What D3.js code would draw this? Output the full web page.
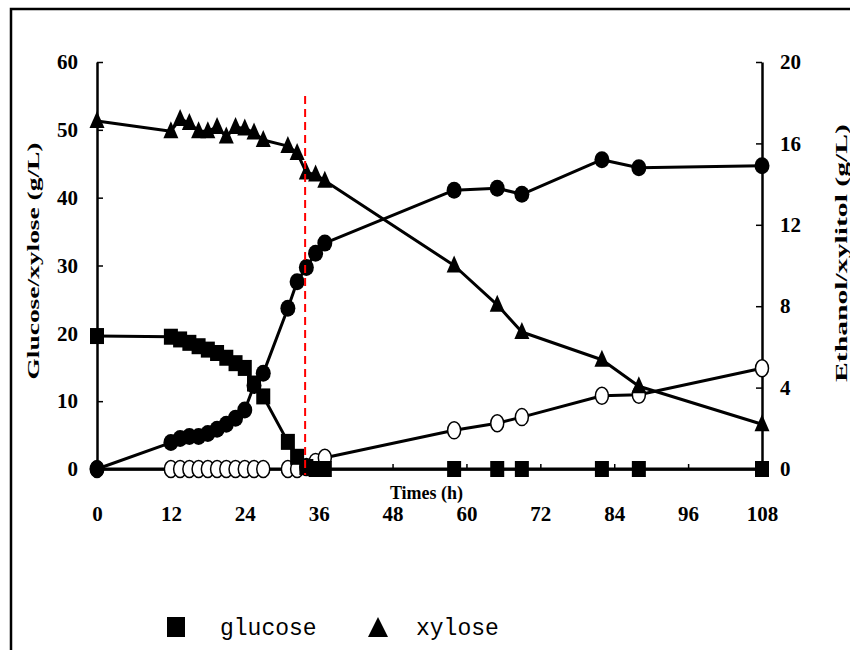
<!DOCTYPE html>
<html>
<head>
<meta charset="utf-8">
<script src="https://cdn.jsdelivr.net/npm/d3@7"></script>
<style>
  body { margin: 0; background: #fff; }
  svg { display: block; }
  .tick text { font-family: "Liberation Serif", "Times New Roman", serif; font-weight: bold; font-size: 21px; fill: #000; }
</style>
</head>
<body>
<div id="chart"></div>
<script>
// sampling times (h)
const times = [0, 12, 13.5, 15, 16.5, 18, 19.5, 21, 22.5, 24, 25.5, 27, 31, 32.5, 34, 35.5, 37, 58, 65, 69, 82, 88, 108];
// left axis (g/L)
const glucose = [19.6, 19.5, 19.1, 18.6, 18.1, 17.6, 17.1, 16.4, 15.6, 14.9, 12.6, 10.7, 4.0, 1.8, 0.3, 0, 0, 0, 0, 0, 0, 0, 0];
const xylose = [51.3, 49.8, 51.6, 51.0, 49.8, 49.8, 50.4, 49.0, 50.4, 50.2, 49.6, 48.5, 47.6, 46.6, 43.7, 43.4, 42.5, 30.0, 24.2, 20.2, 16.1, 12.2, 6.6];
// right axis (g/L)
const ethanol = [0, 1.3, 1.5, 1.6, 1.6, 1.75, 1.95, 2.2, 2.5, 2.9, 4.1, 4.7, 7.9, 9.2, 9.9, 10.6, 11.1, 13.7, 13.8, 13.5, 15.2, 14.8, 14.9];
const xylitol = [0, 0, 0, 0, 0, 0, 0, 0, 0, 0, 0, 0, 0, 0, 0.1, 0.35, 0.55, 1.9, 2.25, 2.55, 3.6, 3.65, 4.95];

const xTicks = [0, 12, 24, 36, 48, 60, 72, 84, 96, 108];
const yLeftTicks = [0, 10, 20, 30, 40, 50, 60];
const yRightTicks = [0, 4, 8, 12, 16, 20];
const cutoffTime = 33.8;
const legendItems = ["glucose", "xylose"];

const width = 850, height = 650;
const margin = { top: 62, right: 88, bottom: 181, left: 97 };

const svg = d3.select("#chart").append("svg")
  .attr("width", width)
  .attr("height", height);

// outer frame (cut off at right and bottom)
svg.append("rect")
  .attr("x", 11).attr("y", 9)
  .attr("width", 900).attr("height", 700)
  .attr("fill", "none")
  .attr("stroke", "#000")
  .attr("stroke-width", 2.5);

const x = d3.scaleLinear().domain([0, 108]).range([margin.left, width - margin.right]);
const yL = d3.scaleLinear().domain([0, 60]).range([height - margin.bottom, margin.top]);
const yR = d3.scaleLinear().domain([0, 20]).range([height - margin.bottom, margin.top]);

function styleAxis(g) {
  g.select(".domain").attr("stroke", "#000").attr("stroke-width", 2.5);
  g.selectAll(".tick line").attr("stroke", "#000").attr("stroke-width", 1.5);
}

svg.append("g")
  .attr("transform", `translate(0,${yL(0)})`)
  .call(d3.axisBottom(x).tickValues(xTicks).tickSizeInner(-5).tickSizeOuter(0).tickPadding(37))
  .call(styleAxis);

svg.append("g")
  .attr("transform", `translate(${x(0)},0)`)
  .call(d3.axisLeft(yL).tickValues(yLeftTicks).tickSizeInner(-6).tickSizeOuter(0).tickPadding(19))
  .call(styleAxis);

svg.append("g")
  .attr("transform", `translate(${x(108)},0)`)
  .call(d3.axisRight(yR).tickValues(yRightTicks).tickSizeInner(-6).tickSizeOuter(0).tickPadding(18))
  .call(styleAxis);

// axis titles
svg.append("text")
  .attr("x", (x(0) + x(108)) / 2 - 3)
  .attr("y", 499)
  .attr("text-anchor", "middle")
  .style("font-family", "'Liberation Serif', serif")
  .style("font-weight", "bold")
  .style("font-size", "18px")
  .text("Times (h)");

svg.append("text")
  .attr("transform", "translate(39,261) rotate(-90)")
  .attr("text-anchor", "middle")
  .attr("textLength", 237)
  .attr("lengthAdjust", "spacingAndGlyphs")
  .style("font-family", "'Liberation Serif', serif")
  .style("font-weight", "bold")
  .style("font-size", "17px")
  .text("Glucose/xylose (g/L)");

svg.append("text")
  .attr("transform", "translate(847,253) rotate(-90)")
  .attr("text-anchor", "middle")
  .attr("textLength", 258)
  .attr("lengthAdjust", "spacingAndGlyphs")
  .style("font-family", "'Liberation Serif', serif")
  .style("font-weight", "bold")
  .style("font-size", "17px")
  .text("Ethanol/xylitol (g/L)");

// series lines
const series = [
  { values: glucose, y: yL },
  { values: xylose, y: yL },
  { values: ethanol, y: yR },
  { values: xylitol, y: yR }
];

series.forEach((s) => {
  const line = d3.line()
    .x((d, i) => x(times[i]))
    .y((d) => s.y(d));
  svg.append("path")
    .datum(s.values)
    .attr("d", line)
    .attr("fill", "none")
    .attr("stroke", "#000")
    .attr("stroke-width", 3)
    .attr("stroke-linejoin", "round");
});

// markers
const tri = (cx, cy) => `M${cx},${cy - 10}L${cx + 7.5},${cy + 7}L${cx - 7.5},${cy + 7}Z`;

svg.append("g").selectAll("ellipse")
  .data(xylitol)
  .enter().append("ellipse")
  .attr("cx", (d, i) => x(times[i]))
  .attr("cy", (d) => yR(d))
  .attr("rx", 6.5).attr("ry", 8.5)
  .attr("fill", "#fff")
  .attr("stroke", "#000")
  .attr("stroke-width", 1.5);

svg.append("g").selectAll("ellipse")
  .data(ethanol)
  .enter().append("ellipse")
  .attr("cx", (d, i) => x(times[i]))
  .attr("cy", (d) => yR(d))
  .attr("rx", 7.5).attr("ry", 8.5)
  .attr("fill", "#000");

svg.append("g").selectAll("rect")
  .data(glucose)
  .enter().append("rect")
  .attr("x", (d, i) => x(times[i]) - 7)
  .attr("y", (d) => yL(d) - 8)
  .attr("width", 14).attr("height", 16)
  .attr("fill", "#000");

svg.append("g").selectAll("path")
  .data(xylose)
  .enter().append("path")
  .attr("d", (d, i) => tri(x(times[i]), yL(d)))
  .attr("fill", "#000");

// cutoff marker line
svg.append("line")
  .attr("x1", x(cutoffTime)).attr("x2", x(cutoffTime))
  .attr("y1", yL(55)).attr("y2", yL(-0.9))
  .attr("stroke", "#f00")
  .attr("stroke-width", 2)
  .attr("stroke-dasharray", "8,5");

// legend
const legend = svg.append("g").attr("transform", "translate(167,617)");
legend.append("rect")
  .attr("x", 0).attr("y", 0)
  .attr("width", 18).attr("height", 20)
  .attr("fill", "#000");
legend.append("path")
  .attr("d", "M211,0L221,20L201,20Z")
  .attr("fill", "#000");
legend.selectAll("text")
  .data(legendItems)
  .enter().append("text")
  .attr("x", (d, i) => 53 + i * 196)
  .attr("y", 18)
  .style("font-family", "'Liberation Mono', monospace")
  .style("font-size", "23px")
  .text((d) => d);
</script>
</body>
</html>
